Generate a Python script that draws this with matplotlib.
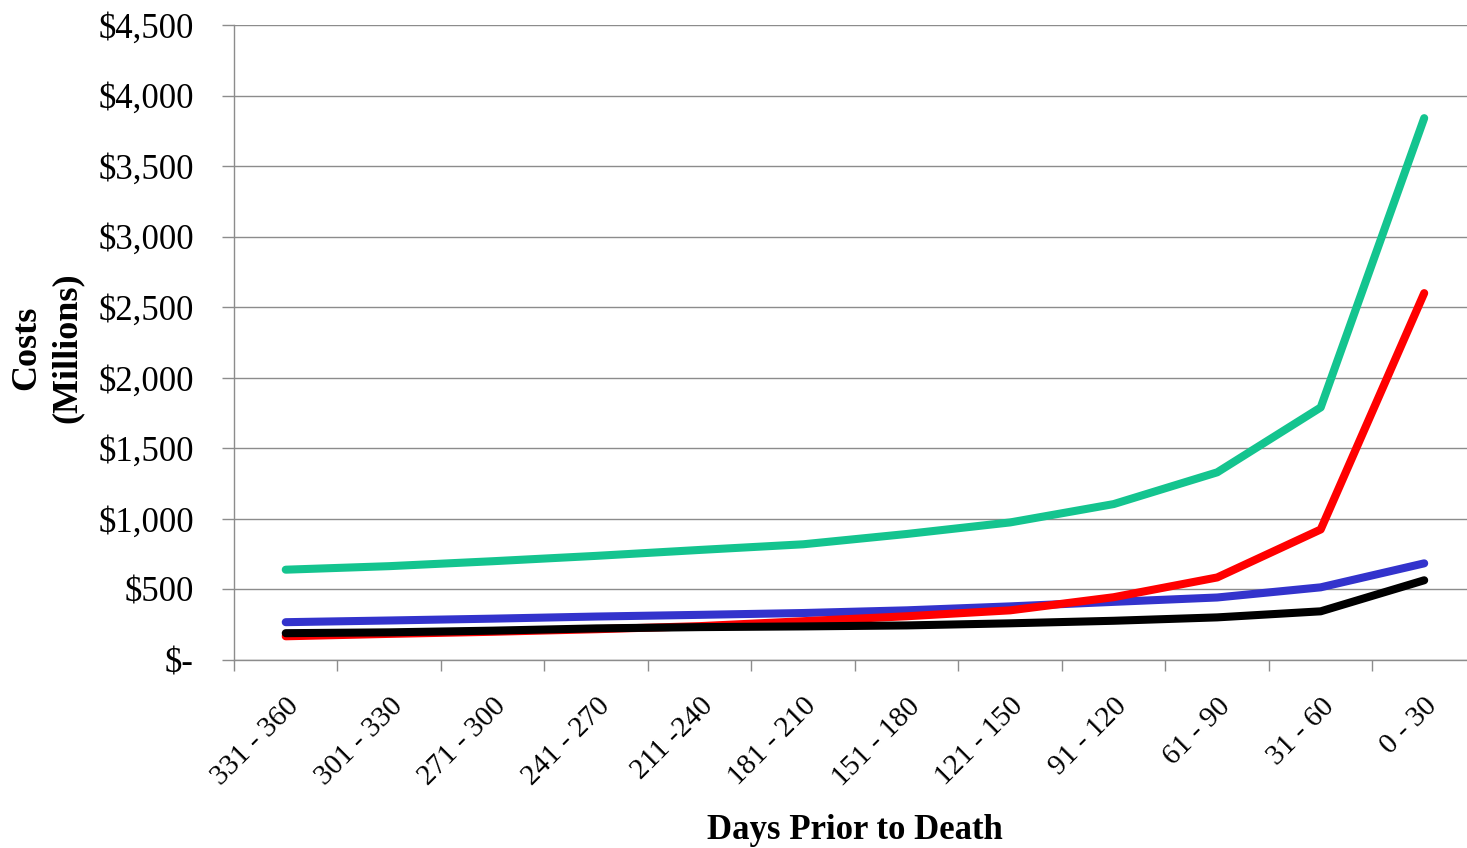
import matplotlib.pyplot as plt
from matplotlib.ticker import FixedLocator, FuncFormatter

plt.rcParams['font.family'] = ['Liberation Serif', 'DejaVu Serif']

# periods before death, oldest first
periods = ['331 - 360', '301 - 330', '271 - 300', '241 - 270', '211 -240',
           '181 - 210', '151 - 180', '121 - 150', '91 - 120', '61 - 90',
           '31 - 60', '0 - 30']

# costs in millions of dollars
green_costs = [640, 665, 700, 738, 780, 820, 893, 975, 1105, 1330, 1790, 3840]
blue_costs = [268, 280, 293, 308, 320, 333, 352, 380, 412, 443, 515, 685]
red_costs = [168, 185, 200, 218, 240, 275, 310, 352, 445, 585, 925, 2600]
black_costs = [190, 196, 208, 224, 233, 238, 245, 260, 278, 302, 345, 565]

y_ticks = list(range(0, 4501, 500))


def money(v, pos):
    if v == 0:
        return '$-'
    return '${:,.0f}'.format(v)


fig = plt.figure(figsize=(14.67, 8.48), dpi=100)
ax = fig.add_axes([0.1595, 0.2217, 0.8466, 0.7488])

x = list(range(len(periods)))
line_kw = dict(linewidth=5.8, solid_capstyle='round', solid_joinstyle='round')
ax.plot(x, green_costs, color='#14c48f', **line_kw)
ax.plot(x, blue_costs, color='#3333cc', **line_kw)
ax.plot(x, red_costs, color='#ff0000', **line_kw)
ax.plot(x, black_costs, color='#000000', **line_kw)

ax.set_xlim(-0.5, len(periods) - 0.5)
ax.set_ylim(0, 4500)
ax.set_yticks(y_ticks)
ax.yaxis.set_major_formatter(FuncFormatter(money))
ax.grid(axis='y', color='#8c8c8c', linewidth=1.0)
ax.set_axisbelow(True)

# category labels in the middle, tick marks on the boundaries
ax.set_xticks(x)
ax.set_xticklabels(periods, rotation=45, ha='right', rotation_mode='anchor',
                   fontsize=21)
ax.tick_params(axis='x', which='major', length=0, pad=24)
ax.xaxis.set_minor_locator(FixedLocator([i - 0.5 for i in range(len(periods) + 1)]))
ax.tick_params(axis='x', which='minor', length=8, color='#8c8c8c', width=1)
ax.tick_params(axis='y', length=9, color='#8c8c8c', width=1, pad=20, labelsize=25)

for side in ('top', 'right'):
    ax.spines[side].set_visible(False)
for side in ('left', 'bottom'):
    ax.spines[side].set_color('#8c8c8c')
    ax.spines[side].set_linewidth(1.0)

fig.text(0.032, 0.590, 'Costs\n(Millions)', rotation=90, ha='center', va='center',
         fontsize=26, fontweight='bold', linespacing=1.3)
fig.text(0.583, 0.021, 'Days Prior to Death', ha='center', va='center',
         fontsize=25, fontweight='bold')

fig.savefig('out.png', dpi=100)
